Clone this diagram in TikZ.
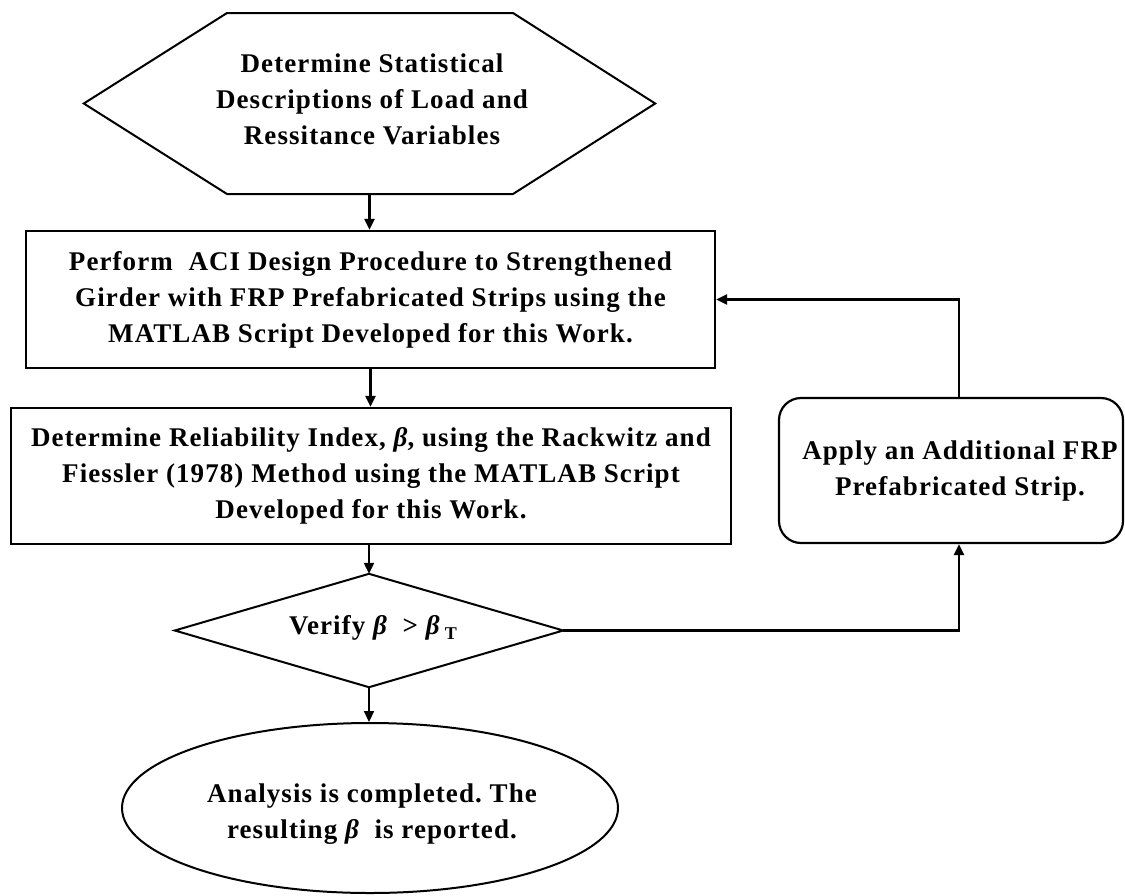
\documentclass[tikz,border=0pt]{standalone}
\usepackage{fontspec}
\setmainfont{Liberation Serif}[LetterSpace=4]
\usetikzlibrary{shapes.geometric,arrows.meta}
\newcommand{\bbeta}{{\itshape β}}
\frenchspacing
\begin{document}
\begin{tikzpicture}[x=1pt,y=-1pt,
  txt/.style={font=\fontsize{27}{36}\selectfont\bfseries\frenchspacing, align=center, inner sep=0pt},
  shapeline/.style={line width=2pt},
  boxstyle/.style={txt, draw, line width=2.2pt, inner sep=0pt},
  conn/.style={line width=2.2pt,-{Triangle[length=11pt,width=10pt]}}
]
\useasboundingbox (0,0) rectangle (1125,895);

% hexagon
\node[minimum width=571pt, minimum height=181pt, inner sep=0pt] (hex) at (369.5,103.5) {};
\draw[shapeline] (hex.west) -- (227,13) -- (513,13) -- (hex.east) -- (513,194) -- (227,194) -- cycle;
\node[txt] (hextxt) at (372,99) {Determine Statistical\\Descriptions of Load and\\Ressitance Variables};

% box 1
\node[boxstyle, minimum width=689pt, minimum height=137pt] (b1) at (370.5,299.5)
  {Perform\ \ ACI Design Procedure to Strengthened\\Girder with FRP Prefabricated Strips using the\\MATLAB Script Developed for this Work.};

% box 2
\node[boxstyle, minimum width=720pt, minimum height=136pt] (b2) at (371,476)
  {Determine Reliability Index, \bbeta, using the Rackwitz and\\Fiessler (1978) Method using the MATLAB Script\\Developed for this Work.};

% rounded box
\node[boxstyle, rounded corners=22pt, minimum width=344pt, minimum height=145pt] (rb) at (951,470.5) {};
\node[txt] (rbtxt) at (960,471) {Apply an Additional FRP\\Prefabricated Strip.};

% diamond
\node[minimum width=388pt, minimum height=113pt, inner sep=0pt] (dia) at (369,630.5) {};
\draw[shapeline] (dia.west) -- (dia.north) -- (dia.east) -- (dia.south) -- cycle;
\node[txt] (diatxt) at (373,628) {Verify \bbeta\ \ > \bbeta\raisebox{-5pt}{\fontsize{18}{18}\selectfont\ T}};

% ellipse
\node[ellipse, draw, shapeline, minimum width=496pt, minimum height=170pt, inner sep=0pt] (ell) at (370,808) {};
\node[txt] (elltxt) at (372,814) {Analysis is completed. The\\resulting \bbeta\ \ is reported.};

% connectors
\coordinate (lx) at (959,0);
\draw[conn] (hex.south) -- (hex.south |- b1.north);
\draw[conn] (b1.south) -- (b1.south |- b2.north);
\draw[conn] (dia.north |- b2.south) -- (dia.north);
\draw[conn] (dia.south) -- (dia.south |- ell.north);
\draw[conn] (dia.east) -| (lx |- rb.south);
\draw[conn] (lx |- rb.north) |- (b1.east);
\end{tikzpicture}
\end{document}
